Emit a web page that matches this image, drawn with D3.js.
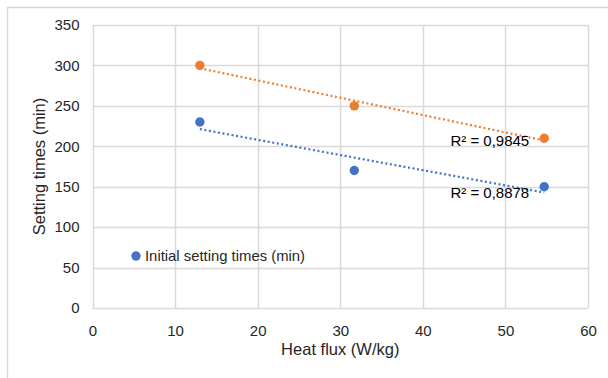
<!DOCTYPE html>
<html>
<head>
<meta charset="utf-8">
<script src="https://cdn.jsdelivr.net/npm/d3@7"></script>
<style>
  html, body { margin: 0; padding: 0; background: #fff; }
  svg { display: block; font-family: "Liberation Sans", Arial, sans-serif; }
</style>
</head>
<body>
<svg id="chart" width="608" height="378"></svg>
<script>
// Heat flux (W/kg) on the x axis
const heatFlux = [13.0, 31.7, 54.7];
// Setting times (min)
const initialSetting = [230, 170, 150];
const finalSetting = [300, 250, 210];
const xTicks = [0, 10, 20, 30, 40, 50, 60];
const yTicks = [0, 50, 100, 150, 200, 250, 300, 350];
const r2Labels = ["R² = 0,9845", "R² = 0,8878"];

const series = [
  { name: "Final setting times (min)", values: finalSetting, color: "#ED7D31", r2: r2Labels[0] },
  { name: "Initial setting times (min)", values: initialSetting, color: "#4472C4", r2: r2Labels[1] }
];

const svg = d3.select("#chart");
const W = 608, H = 378;
const margin = { left: 92.5, right: 20, top: 25, bottom: 70 };

const x = d3.scaleLinear().domain([0, 60]).range([margin.left, W - margin.right]);
const y = d3.scaleLinear().domain([0, 350]).range([H - margin.bottom, margin.top]);

const grid = "#d9d9d9";
const textCol = "#262626";

// outer chart frame
svg.append("rect")
  .attr("x", 7.5).attr("y", 7.5)
  .attr("width", W + 10).attr("height", H + 10)
  .attr("fill", "none").attr("stroke", grid).attr("stroke-width", 1.5);

// gridlines
const g = svg.append("g");
g.selectAll("line.vx").data(xTicks).join("line")
  .attr("x1", d => Math.round(x(d)) + 0.5).attr("x2", d => Math.round(x(d)) + 0.5)
  .attr("y1", y(0)).attr("y2", y(350))
  .attr("stroke", grid).attr("stroke-width", 1.5);
g.selectAll("line.hy").data(yTicks).join("line")
  .attr("y1", d => Math.round(y(d)) + 0.5).attr("y2", d => Math.round(y(d)) + 0.5)
  .attr("x1", x(0)).attr("x2", x(60))
  .attr("stroke", grid).attr("stroke-width", 1.5);

// axes (labels only, lines drawn by the grid)
const xAxis = svg.append("g")
  .attr("transform", `translate(0,${y(0)})`)
  .call(d3.axisBottom(x).tickValues(xTicks).tickSize(0).tickPadding(17));
const yAxis = svg.append("g")
  .attr("transform", `translate(${x(0)},0)`)
  .call(d3.axisLeft(y).tickValues(yTicks).tickSize(0).tickPadding(13));
[xAxis, yAxis].forEach(a => {
  a.select(".domain").remove();
  a.selectAll("text")
    .attr("font-family", "Liberation Sans, Arial, sans-serif")
    .attr("font-size", 15).attr("fill", textCol);
});

// axis titles
svg.append("text")
  .attr("x", (x(0) + x(60)) / 2).attr("y", 354.5)
  .attr("text-anchor", "middle")
  .attr("font-size", 16.5).attr("fill", textCol)
  .text("Heat flux (W/kg)");
svg.append("text")
  .attr("transform", `translate(45,${(y(0) + y(350)) / 2}) rotate(-90)`)
  .attr("text-anchor", "middle")
  .attr("font-size", 16.5).attr("fill", textCol)
  .text("Setting times (min)");

// linear least-squares trendline
function fit(xs, ys) {
  const mx = d3.mean(xs), my = d3.mean(ys);
  let sxy = 0, sxx = 0;
  xs.forEach((v, i) => { sxy += (v - mx) * (ys[i] - my); sxx += (v - mx) ** 2; });
  const slope = sxy / sxx;
  return { slope, intercept: my - slope * mx };
}

series.forEach(s => {
  const f = fit(heatFlux, s.values);
  const x0 = d3.min(heatFlux), x1 = d3.max(heatFlux);
  svg.append("line")
    .attr("x1", x(x0)).attr("y1", y(f.intercept + f.slope * x0))
    .attr("x2", x(x1)).attr("y2", y(f.intercept + f.slope * x1))
    .attr("stroke", s.color).attr("stroke-width", 2.2)
    .attr("stroke-dasharray", "2 2.6");

  svg.append("g").selectAll("circle").data(heatFlux).join("circle")
    .attr("cx", d => x(d))
    .attr("cy", (d, i) => y(s.values[i]))
    .attr("r", 4.7)
    .attr("fill", s.color);

  svg.append("text")
    .attr("x", x(x1) - 15)
    .attr("y", y(f.intercept + f.slope * x1) + 5.5)
    .attr("text-anchor", "end")
    .attr("font-size", 15).attr("fill", "#000")
    .text(s.r2);
});

// legend entry
const leg = svg.append("g").attr("transform", "translate(136,256)");
leg.append("circle").attr("r", 4.7).attr("fill", series[1].color);
leg.append("text")
  .attr("x", 9).attr("y", 5)
  .attr("font-size", 15).attr("fill", textCol)
  .attr("textLength", 160).attr("lengthAdjust", "spacingAndGlyphs")
  .text(series[1].name);
</script>
</body>
</html>
